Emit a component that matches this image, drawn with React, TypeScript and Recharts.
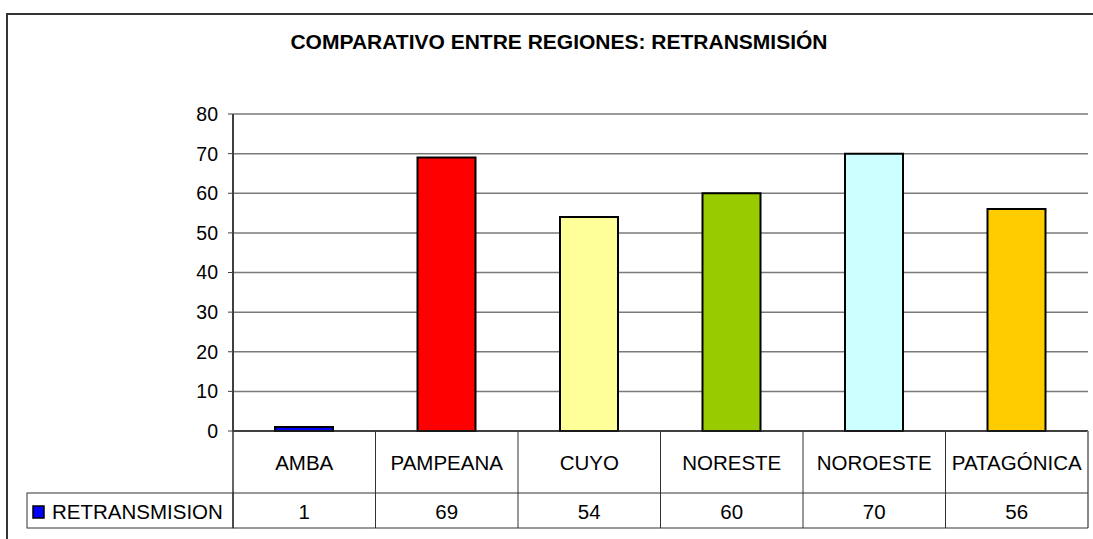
import React from 'react';
import { BarChart, Bar, XAxis, YAxis, CartesianGrid, Cell } from 'recharts';

const categories = ['AMBA', 'PAMPEANA', 'CUYO', 'NORESTE', 'NOROESTE', 'PATAGÓNICA'];
const retransmision = [1, 69, 54, 60, 70, 56];
const barColors = ['#0000FF', '#FF0000', '#FFFF99', '#99CC00', '#CCFFFF', '#FFCC00'];
const yTicks = [0, 10, 20, 30, 40, 50, 60, 70, 80];
const seriesName = 'RETRANSMISION';

const data = categories.map((name, i) => ({ name, value: retransmision[i] }));

const W = 1093;
const H = 539;
const plotLeft = 233;
const plotRight = 1088;
const cellW = (plotRight - plotLeft) / categories.length;
const tableH = 97;
const FONT = '"Liberation Sans", Arial, sans-serif';
const TABLE_FS = 20.5;

// one column of the data table under the plot (label row + value row)
const TableCell = (props: any) => {
    const { x, y, payload, index } = props;
    const half = cellW / 2;
    const isLast = index === categories.length - 1;
    return (
        <g>
            <line x1={x + half} y1={y} x2={x + half} y2={y + tableH}
                stroke={isLast ? '#888' : '#333'} strokeWidth={isLast ? 2 : 1} />
            <line x1={x - half} y1={y + 62} x2={x + half} y2={y + 62} stroke="#333" strokeWidth={1} />
            <line x1={x - half} y1={y + tableH} x2={x + half} y2={y + tableH} stroke="#333" strokeWidth={1} />
            <text x={x} y={y + 31} textAnchor="middle" dominantBaseline="central" fontSize={TABLE_FS} fill="#000">
                {payload.value}
            </text>
            <text x={x} y={y + 80} textAnchor="middle" dominantBaseline="central" fontSize={TABLE_FS} fill="#000">
                {retransmision[index]}
            </text>
            {index === 0 && (
                <g>
                    <line x1={x - half} y1={y} x2={x - half} y2={y + tableH} stroke="#333" strokeWidth={1.5} />
                    <rect x={27} y={y + 62} width={x - half - 27} height={tableH - 62} fill="none" stroke="#333" strokeWidth={1} />
                    <rect x={33} y={y + 75} width={11} height={12} fill="#0000FF" stroke="#000" strokeWidth={1.5} />
                    <text x={52} y={y + 80} dominantBaseline="central" fontSize={TABLE_FS} fill="#000">{seriesName}</text>
                </g>
            )}
        </g>
    );
};

export default function App() {
    return (
        <div style={{ position: 'absolute', left: 0, top: 0, width: W, height: H, background: '#fff', overflow: 'hidden', fontFamily: FONT }}>
            <div style={{ position: 'absolute', left: 6, top: 13, width: W + 60, height: H + 60, border: '2px solid #333' }} />
            <div style={{ position: 'absolute', left: 0, top: 30, width: 1118, textAlign: 'center', fontWeight: 'bold', fontSize: 21, lineHeight: '24px', color: '#000' }}>
                COMPARATIVO ENTRE REGIONES: RETRANSMISIÓN
            </div>
            <div style={{ position: 'absolute', left: 0, top: 0 }}>
                <BarChart width={W} height={H} data={data}
                    margin={{ top: 114, right: W - plotRight, bottom: H - 431 - tableH, left: plotLeft - 60 }}>
                    <CartesianGrid vertical={false} stroke="#7a7a7a" strokeWidth={1.5} />
                    <XAxis dataKey="name" interval={0} height={tableH} tickSize={0} tickMargin={0}
                        tickLine={false} axisLine={{ stroke: '#222', strokeWidth: 1.5 }} tick={<TableCell />} />
                    <XAxis xAxisId="top" dataKey="name" orientation="top" height={0} tick={false} tickLine={false}
                        axisLine={{ stroke: '#888', strokeWidth: 2 }} />
                    <YAxis domain={[0, 80]} ticks={yTicks} width={60} tickSize={5} tickMargin={10}
                        tick={{ fill: '#000', fontSize: 19.5 }}
                        axisLine={{ stroke: '#404040', strokeWidth: 2 }} tickLine={{ stroke: '#404040' }} />
                    <YAxis yAxisId="right" orientation="right" width={0} tick={false} tickLine={false}
                        axisLine={{ stroke: '#888', strokeWidth: 2 }} />
                    <Bar dataKey="value" barSize={58} stroke="#000" strokeWidth={2} isAnimationActive={false}>
                        {data.map((d, i) => (
                            <Cell key={d.name} fill={barColors[i]} />
                        ))}
                    </Bar>
                </BarChart>
            </div>
        </div>
    );
}
